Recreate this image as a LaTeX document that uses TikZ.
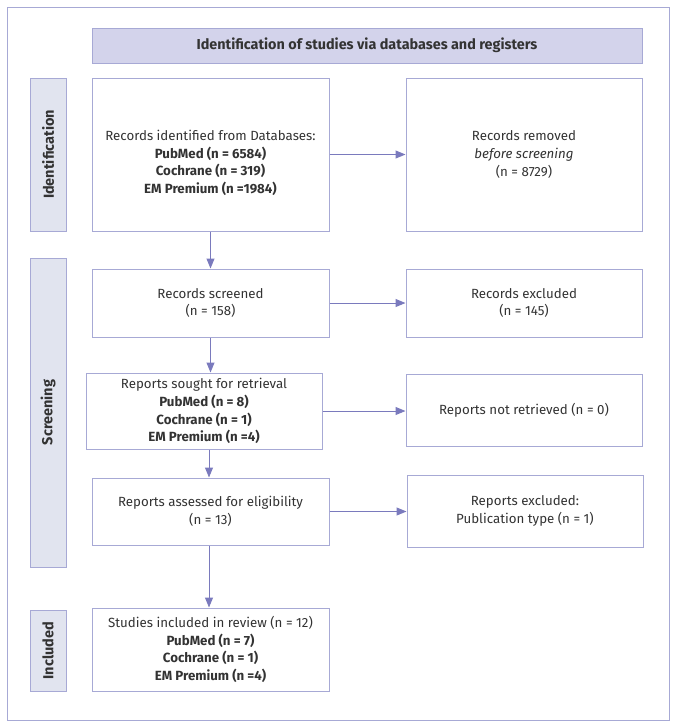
\documentclass[tikz,border=0pt]{standalone}
\usepackage{fontspec}
\setmainfont{Fira Sans}
\usetikzlibrary{arrows.meta}
\definecolor{bordc}{HTML}{A7A9D5}
\definecolor{arrc}{HTML}{7A7ABD}
\definecolor{titlef}{HTML}{D3D3EB}
\definecolor{sidef}{HTML}{E1E4EF}
\definecolor{txt}{HTML}{333333}
\tikzset{
  box/.style={draw=bordc, line width=1pt, fill=white, align=center, inner sep=0pt,
    text=txt, font=\fontsize{13.3}{17.8}\selectfont},
  sidebox/.style={draw=bordc, line width=1pt, fill=sidef, inner sep=0pt,
    text=txt, font=\fontsize{14.5}{16}\selectfont\bfseries},
  titlebox/.style={draw=bordc, line width=1pt, fill=titlef, inner sep=0pt,
    text=txt, font=\fontsize{14.4}{16}\selectfont\bfseries},
  arr/.style={draw=arrc, line width=1pt, -{Triangle[length=10pt,width=8pt]}, arrc},
}
\begin{document}
\begin{tikzpicture}[x=1pt,y=-1pt]
\useasboundingbox (0,0) rectangle (678,726);
\draw[bordc, line width=1pt] (7,7) rectangle (669,720);
\node[titlebox, minimum width=550pt, minimum height=35pt] (T) at (367,45.5)
  {Identification of studies via databases and registers};
\node[sidebox, minimum width=153pt, minimum height=36pt, rotate=90] (S1) at (48,154.5) {Identification};
\node[sidebox, minimum width=309pt, minimum height=36pt, rotate=90] (S2) at (48,412.5) {Screening};
\node[sidebox, minimum width=81pt, minimum height=36pt, rotate=90] (S3) at (48,650.5) {Included};

\node[box, minimum width=237pt, minimum height=153pt] (A) at (210.5,154.5)
  {\raisebox{-9pt}[\height][\depth]{\begin{tabular}{@{}c@{}}Records identified from Databases:\\ \textbf{PubMed (n = 6584)}\\ \textbf{Cochrane (n = 319)}\\ \textbf{EM Premium (n =1984)}\end{tabular}}};
\node[box, minimum width=236pt, minimum height=153pt] (B) at (524,154.5)
  {Records removed\\ \textit{before screening}\\ (n = 8729)};
\node[box, minimum width=237pt, minimum height=68pt] (C) at (210.5,303)
  {Records screened\\ (n = 158)};
\node[box, minimum width=236pt, minimum height=68pt] (D) at (524,303)
  {Records excluded\\ (n = 145)};
\node[box, minimum width=236pt, minimum height=76pt] (E) at (204,411)
  {Reports sought for retrieval\\ \textbf{PubMed (n = 8)}\\ \textbf{Cochrane (n = 1)}\\ \textbf{EM Premium (n =4)}};
\node[box, minimum width=236pt, minimum height=72pt] (F) at (524,410)
  {Reports not retrieved (n = 0)};
\node[box, minimum width=237pt, minimum height=67pt] (G) at (210.5,511.5)
  {Reports assessed for eligibility\\ (n = 13)};
\node[box, minimum width=236pt, minimum height=72pt] (H) at (525,511)
  {Reports excluded:\\ Publication type (n = 1)};
\node[box, minimum width=237pt, minimum height=83pt] (I) at (210.5,649.5)
  {Studies included in review (n = 12)\\ \textbf{PubMed (n = 7)}\\ \textbf{Cochrane (n = 1)}\\ \textbf{EM Premium (n =4)}};

\draw[arr] (A.east) -- (B.west |- A.east);
\draw[arr] (C.east) -- (D.west |- C.east);
\draw[arr] (E.east) -- (F.west |- E.east);
\draw[arr] (G.east) -- (H.west |- G.east);
\draw[arr] (A.south) -- (C.north);
\draw[arr] (C.south) -- (C.south |- E.north);
\draw[arr] ([xshift=5pt]E.south) -- ([xshift=5pt]E.south |- G.north);
\draw[arr] ([xshift=-1.5pt]G.south) -- ([xshift=-1.5pt]G.south |- I.north);
\end{tikzpicture}
\end{document}
